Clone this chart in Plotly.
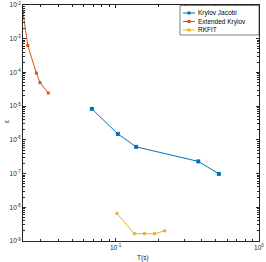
import plotly.graph_objects as go
import math

# Data
series_names = ["Krylov Jacobi", "Extended Krylov", "RKFIT"]
series_colors = ["#0072BD", "#D95319", "#EDB120"]

kj_t = [0.0683, 0.1037, 0.139, 0.377, 0.525]
kj_err = [8.3e-6, 1.5e-6, 6.2e-7, 2.3e-7, 9.8e-8]

ek_t = [0.0226, 0.0244, 0.0280, 0.0297, 0.0339]
ek_err = [6.1e-3, 6.3e-4, 9.6e-5, 5.0e-5, 2.45e-5]

rk_t = [0.102, 0.135, 0.159, 0.187, 0.22]
rk_err = [6.6e-9, 1.65e-9, 1.65e-9, 1.65e-9, 2.0e-9]

x_tick_vals = [0.1, 1.0]
x_tick_text = ["10<sup>-1</sup>", "10<sup>0</sup>"]
y_tick_vals = [1e-9, 1e-8, 1e-7, 1e-6, 1e-5, 1e-4, 1e-3, 1e-2]
y_tick_text = ["10<sup>-9</sup>", "10<sup>-8</sup>", "10<sup>-7</sup>", "10<sup>-6</sup>",
               "10<sup>-5</sup>", "10<sup>-4</sup>", "10<sup>-3</sup>", "10<sup>-2</sup>"]

x_range = [0.0226, 1.0]
y_range = [1e-9, 1e-2]
x_title = "T(s)"
y_title = "ε"

W, H = 266, 262
ML, MR, MT, MB = 23, 7, 5, 21
PW, PH = W - ML - MR, H - MT - MB

FONT = "Liberation Sans, Arial"
AXC = "#262626"

fig = go.Figure()
data = [(kj_t, kj_err, 4), (ek_t, ek_err, 3), (rk_t, rk_err, 3)]
for (xs, ys, ms), name, col in zip(data, series_names, series_colors):
    fig.add_trace(go.Scatter(x=xs, y=ys, mode="lines+markers", name=name, showlegend=False,
                             line=dict(color=col, width=1),
                             marker=dict(symbol="square", size=ms, color=col)))

axis_common = dict(type="log", showline=True, linecolor=AXC, linewidth=0.8, automargin=False,
                   mirror="allticks", ticks="inside", ticklen=3, tickcolor=AXC,
                   showgrid=False, zeroline=False,
                   ticklabeloverflow="allow",
                   tickfont=dict(family=FONT, size=6.5, color=AXC),
                   minor=dict(ticks="inside", ticklen=2, tickcolor=AXC, showgrid=False, dtick="D1"))

eps = 1e-4
fig.update_xaxes(**axis_common, range=[math.log10(x_range[0]), math.log10(x_range[1]) + eps],
                 tickmode="array", tickvals=x_tick_vals, ticktext=x_tick_text)
fig.update_yaxes(**axis_common, range=[math.log10(y_range[0]) - eps, math.log10(y_range[1]) + eps],
                 tickmode="array", tickvals=y_tick_vals, ticktext=y_tick_text)

def px_x(p):
    return (p - ML) / PW

def px_y(p):
    return 1 - (p - MT) / PH

# Manual legend (MATLAB-style box)
shapes = [dict(type="rect", xref="paper", yref="paper",
               x0=px_x(180), x1=px_x(259), y0=px_y(35), y1=px_y(5.5),
               line=dict(color=AXC, width=0.6), fillcolor="white", layer="above")]
annotations = []
row_y = [13, 21.5, 30]
for name, col, ry in zip(series_names, series_colors, row_y):
    yp = px_y(ry)
    shapes.append(dict(type="line", xref="paper", yref="paper", x0=px_x(183), x1=px_x(195),
                       y0=yp, y1=yp, line=dict(color=col, width=1), layer="above"))
    shapes.append(dict(type="rect", xref="paper", yref="paper", xsizemode="pixel", ysizemode="pixel",
                       xanchor=px_x(189), yanchor=yp, x0=-1.5, x1=1.5, y0=-1.5, y1=1.5,
                       line=dict(width=0), fillcolor=col, layer="above"))
    annotations.append(dict(text=name, xref="paper", yref="paper", x=px_x(196), y=yp,
                            xanchor="left", yanchor="middle", showarrow=False,
                            font=dict(family=FONT, size=6.5, color="black")))

# Axis titles
annotations.append(dict(text=x_title, xref="paper", yref="paper", x=px_x(143), y=px_y(258),
                        xanchor="center", yanchor="middle", showarrow=False,
                        font=dict(family=FONT, size=6.5, color=AXC)))
annotations.append(dict(text=y_title, xref="paper", yref="paper", x=px_x(6), y=px_y(122),
                        xanchor="center", yanchor="middle", showarrow=False, textangle=-90,
                        font=dict(family=FONT, size=6.5, color=AXC)))

fig.update_layout(width=W, height=H, margin=dict(l=ML, r=MR, t=MT, b=MB, autoexpand=False),
                  plot_bgcolor="white", paper_bgcolor="white",
                  showlegend=False, shapes=shapes, annotations=annotations)

fig.write_html("out.html", config={"displayModeBar": False},
               post_script="document.body.style.margin='0';document.body.style.overflow='hidden';")
